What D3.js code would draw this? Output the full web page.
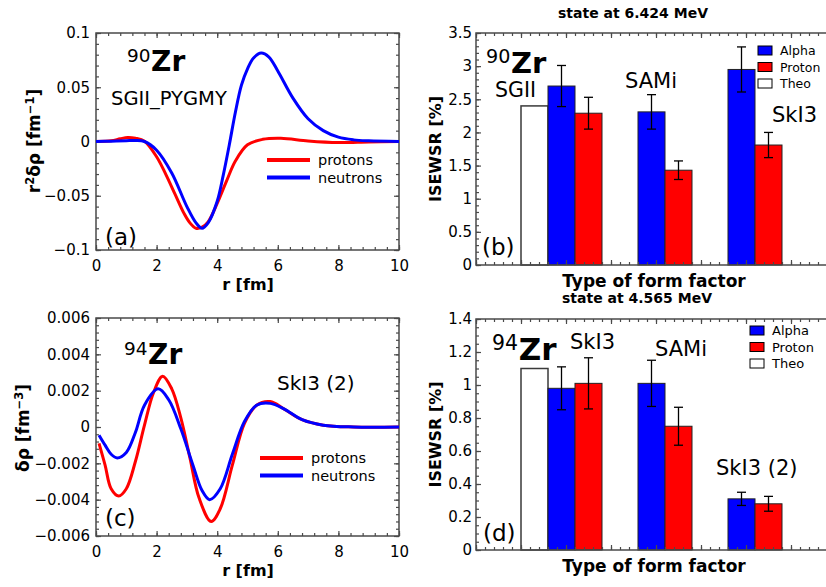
<!DOCTYPE html>
<html>
<head>
<meta charset="utf-8">
<script src="https://cdn.jsdelivr.net/npm/d3@7"></script>
<style>
  body { margin: 0; background: #fff; }
  text { font-family: 'DejaVu Sans', sans-serif; fill: #000; }
</style>
</head>
<body>
<div id="viz"></div>
<script>
var width = 826,
    height = 587;

var rojo = '#ff0000',
    azul = '#0000ff',
    ejes = '#4a4a4a';

// (a) 90Zr, SGII_PYGMY, r^2 drho
var rA = [0, 0.5, 0.8, 1.05, 1.3, 1.6, 2.0, 2.3, 2.6, 2.9, 3.1, 3.3, 3.5, 3.7, 4.0, 4.3, 4.6, 5.0, 5.5, 6.1, 7.0, 8.0, 9.0, 10];
var protonesA = [0, 0.0006, 0.0025, 0.0037, 0.003, 0.0003, -0.014, -0.030, -0.048, -0.066, -0.075, -0.080, -0.079, -0.074, -0.057, -0.037, -0.018, -0.003, 0.002, 0.003, 0.0005, -0.001, -0.0004, 0];
var rA2 = [0, 0.5, 1.0, 1.3, 1.6, 2.0, 2.5, 3.0, 3.3, 3.5, 3.7, 4.0, 4.2, 4.4, 4.6, 4.8, 5.0, 5.2, 5.45, 5.7, 6.0, 6.5, 7.0, 7.5, 8.0, 8.5, 9.0, 10];
var neutronesA = [0, 0.0003, 0.0008, 0.001, 0, -0.008, -0.029, -0.060, -0.075, -0.080, -0.075, -0.055, -0.031, -0.003, 0.027, 0.052, 0.067, 0.077, 0.0815, 0.078, 0.065, 0.040, 0.021, 0.010, 0.004, 0.0015, 0.0006, 0];

// (c) 94Zr, SkI3 (2), drho
var rC = [0.1, 0.3, 0.5, 0.75, 1.0, 1.3, 1.6, 1.9, 2.2, 2.5, 2.8, 3.1, 3.4, 3.8, 4.1, 4.5, 4.9, 5.3, 5.75, 6.2, 6.8, 7.5, 8.5, 10];
var protonesC = [-0.0009, -0.0021, -0.0034, -0.0038, -0.0034, -0.0019, 0.0001, 0.0019, 0.0028, 0.0021, 0.0005, -0.0017, -0.0039, -0.0052, -0.0045, -0.0021, 0.0002, 0.0012, 0.0014, 0.001, 0.0004, 0.0001, 0, 0];
var rC2 = [0.1, 0.3, 0.5, 0.7, 1.0, 1.3, 1.6, 2.05, 2.4, 2.8, 3.2, 3.5, 3.75, 4.1, 4.5, 4.9, 5.3, 5.75, 6.2, 6.8, 7.5, 8.5, 10];
var neutronesC = [-0.00045, -0.001, -0.0015, -0.0017, -0.0014, -0.0003, 0.0012, 0.0021, 0.0015, -0.0001, -0.0021, -0.0035, -0.0040, -0.0034, -0.0015, 0.0003, 0.0012, 0.0013, 0.001, 0.0004, 0.0001, 0, 0];

// (b) state at 6.424 MeV
var gruposB = ['SGII', 'SAMi', 'SkI3'];
var alphaB = [2.70, 2.31, 2.95],
    alphaErrB = [0.31, 0.26, 0.34],
    protonB = [2.29, 1.43, 1.81],
    protonErrB = [0.24, 0.14, 0.19],
    theoB = 2.40;

// (d) state at 4.565 MeV
var gruposD = ['SkI3', 'SAMi', 'SkI3 (2)'];
var alphaD = [0.98, 1.01, 0.31],
    alphaErrD = [0.13, 0.14, 0.04],
    protonD = [1.01, 0.75, 0.28],
    protonErrD = [0.155, 0.115, 0.045],
    theoD = 1.10;

// centro de cada grupo sobre el eje x (unidades del eje)
var grupoX = [2.2, 4.2, 6.2];

// ticks
var ticksR = [0, 2, 4, 6, 8, 10],
    ticksA = [-0.1, -0.05, 0, 0.05, 0.1],
    ticksC = [-0.006, -0.004, -0.002, 0, 0.002, 0.004, 0.006],
    ticksB = [0, 0.5, 1, 1.5, 2, 2.5, 3, 3.5],
    ticksD = [0, 0.2, 0.4, 0.6, 0.8, 1, 1.2, 1.4];

var svg = d3.select('#viz')
  .append('svg')
  .attr('width', width)
  .attr('height', height)
  .style('background', '#fff');

var fmt = d3.format('~g');

//Ejes con ticks hacia adentro en los cuatro lados
function ejesPanel(x, y, o) {
  var x0 = x.range()[0], x1 = x.range()[1],
      y0 = y.range()[0], y1 = y.range()[1];
  var g = svg.append('g');

  function axis(gen, tx, ty, vals, size, conTexto, pad) {
    var a = gen.tickValues(vals).tickSize(-size).tickPadding(pad || 0);
    if (!conTexto) a.tickFormat('');
    else a.tickFormat(fmt);
    var s = g.append('g').attr('transform', 'translate(' + tx + ',' + ty + ')').call(a);
    s.select('.domain').remove();
    s.selectAll('line').attr('stroke', ejes).attr('stroke-width', 1.2);
    s.selectAll('text').style('font-size', '15px').attr('fill', '#000');
    return s;
  }

  var xMinor = d3.range(x.domain()[0], x.domain()[1] + 1e-9, o.xMinor);
  var yMinor = d3.range(y.domain()[0], y.domain()[1] + 1e-9, o.yMinor);

  axis(d3.axisBottom(x), 0, y0, xMinor, 3, false);
  axis(d3.axisTop(x), 0, y1, xMinor, 3, false);
  axis(d3.axisLeft(y), x0, 0, yMinor, 3, false);
  axis(d3.axisRight(y), x1, 0, yMinor, 3, false);

  if (o.xTicks) {
    axis(d3.axisBottom(x), 0, y0, o.xTicks, 5, true, 10);
    axis(d3.axisTop(x), 0, y1, o.xTicks, 5, false);
  } else {
    var xMajor = d3.range(x.domain()[0], x.domain()[1] + 1e-9, 1);
    axis(d3.axisBottom(x), 0, y0, xMajor, 5, false);
    axis(d3.axisTop(x), 0, y1, xMajor, 5, false);
  }
  axis(d3.axisLeft(y), x0, 0, o.yTicks, 5, true, o.yPad);
  axis(d3.axisRight(y), x1, 0, o.yTicks, 5, false);

  g.append('rect')
    .attr('x', x0).attr('y', y1)
    .attr('width', x1 - x0).attr('height', y0 - y1)
    .attr('fill', 'none')
    .attr('stroke', ejes)
    .attr('stroke-width', 1.5);
}

function texto(x, y, t, size, bold, anchor) {
  return svg.append('text')
    .attr('x', x).attr('y', y)
    .attr('text-anchor', anchor || 'start')
    .style('font-size', size + 'px')
    .style('font-weight', bold ? 'bold' : 'normal')
    .text(t);
}

function nucleo(x, y, masa, size) {
  texto(x, y - size * 0.33, masa, size * 0.66);
  texto(x + size * 0.86, y, 'Zr', size, true);
}

//Paneles de densidad de transicion
function panelCurvas(yTop, yBot, yDom, yTicks, yMinor, series, ley) {
  var x = d3.scaleLinear().domain([0, 10]).range([96, 399]);
  var y = d3.scaleLinear().domain(yDom).range([yBot, yTop]);

  ejesPanel(x, y, { xTicks: ticksR, xMinor: 0.4, yTicks: yTicks, yMinor: yMinor, yPad: 6 });

  var linea = d3.line()
    .x(function(d) { return x(d[0]); })
    .y(function(d) { return y(d[1]); })
    .curve(d3.curveCatmullRom.alpha(0.5));

  svg.append('g').selectAll('path')
    .data(series)
    .enter().append('path')
    .attr('d', function(d) { return linea(d3.zip(d.r, d.v)); })
    .attr('fill', 'none')
    .attr('stroke', function(d) { return d.color; })
    .attr('stroke-width', 3);

  var lg = svg.append('g').selectAll('g')
    .data(series)
    .enter().append('g');
  lg.append('line')
    .attr('x1', ley.x).attr('x2', ley.x + 43)
    .attr('y1', function(d, i) { return ley.y + i * 17.5; })
    .attr('y2', function(d, i) { return ley.y + i * 17.5; })
    .attr('stroke', function(d) { return d.color; })
    .attr('stroke-width', 4);
  lg.append('text')
    .attr('x', ley.x + 51)
    .attr('y', function(d, i) { return ley.y + i * 17.5 + 5; })
    .style('font-size', '14.5px')
    .text(function(d) { return d.nombre; });

  texto(248, yBot + 40, 'r [fm]', 16, true, 'middle');
}

panelCurvas(33, 250, [-0.1, 0.1], ticksA, 0.01, [
  { nombre: 'protons', color: rojo, r: rA, v: protonesA },
  { nombre: 'neutrons', color: azul, r: rA2, v: neutronesA }
], { x: 267, y: 160 });

panelCurvas(318, 536, [-0.006, 0.006], ticksC, 0.0004, [
  { nombre: 'protons', color: rojo, r: rC, v: protonesC },
  { nombre: 'neutrons', color: azul, r: rC2, v: neutronesC }
], { x: 260, y: 458 });

// etiquetas eje y de (a) y (c)
var ya = svg.append('text')
  .attr('transform', 'translate(40,141) rotate(-90)')
  .attr('text-anchor', 'middle')
  .style('font-size', '17px').style('font-weight', 'bold');
ya.append('tspan').text('r');
ya.append('tspan').attr('dy', -6).style('font-size', '11.5px').text('2');
ya.append('tspan').attr('dy', 6).text('δρ [fm');
ya.append('tspan').attr('dy', -6).style('font-size', '11.5px').text('−1');
ya.append('tspan').attr('dy', 6).text(']');

var yc = svg.append('text')
  .attr('transform', 'translate(29,428) rotate(-90)')
  .attr('text-anchor', 'middle')
  .style('font-size', '17px').style('font-weight', 'bold');
yc.append('tspan').text('δρ [fm');
yc.append('tspan').attr('dy', -6).style('font-size', '11.5px').text('−3');
yc.append('tspan').attr('dy', 6).text(']');

nucleo(127, 71, '90', 28);
texto(111, 105, 'SGII_PYGMY', 19.5);
texto(105, 245, '(a)', 23);

nucleo(124, 364, '94', 28);
texto(277, 390, 'SkI3 (2)', 20);
texto(105, 526, '(c)', 23);

//Paneles de barras ISEWSR
function panelBarras(yTop, yBot, yMax, yTicks, yMinor, alpha, alphaErr, proton, protonErr, theo) {
  var x = d3.scaleLinear().domain([0, 8]).range([476, 836]);
  var y = d3.scaleLinear().domain([0, yMax]).range([yBot, yTop]);
  var bw = 0.6;

  var g = svg.append('g');

  g.append('rect')
    .attr('x', x(grupoX[0] - 2 * bw))
    .attr('y', y(theo))
    .attr('width', x(bw) - x(0))
    .attr('height', y(0) - y(theo))
    .attr('fill', '#fff')
    .attr('stroke', '#3a3a3a')
    .attr('stroke-width', 1.5);

  var datos = [];
  alpha.forEach(function(v, i) {
    datos.push({ x0: grupoX[i] - bw, v: v, e: alphaErr[i], color: azul });
    datos.push({ x0: grupoX[i], v: proton[i], e: protonErr[i], color: rojo });
  });

  g.selectAll('rect.barra')
    .data(datos)
    .enter().append('rect')
    .attr('class', 'barra')
    .attr('x', function(d) { return x(d.x0); })
    .attr('y', function(d) { return y(d.v); })
    .attr('width', x(bw) - x(0))
    .attr('height', function(d) { return y(0) - y(d.v); })
    .attr('fill', function(d) { return d.color; })
    .attr('stroke', '#222')
    .attr('stroke-width', 1);

  // barras de error
  var eg = g.selectAll('g.err')
    .data(datos)
    .enter().append('g')
    .attr('class', 'err')
    .attr('stroke', '#000')
    .attr('stroke-width', 1.3);
  eg.append('line')
    .attr('x1', function(d) { return x(d.x0 + bw / 2); })
    .attr('x2', function(d) { return x(d.x0 + bw / 2); })
    .attr('y1', function(d) { return y(d.v - d.e); })
    .attr('y2', function(d) { return y(d.v + d.e); });
  [-1, 1].forEach(function(s) {
    eg.append('line')
      .attr('x1', function(d) { return x(d.x0 + bw / 2) - 4.5; })
      .attr('x2', function(d) { return x(d.x0 + bw / 2) + 4.5; })
      .attr('y1', function(d) { return y(d.v + s * d.e); })
      .attr('y2', function(d) { return y(d.v + s * d.e); });
  });

  ejesPanel(x, y, { xMinor: 0.2, yTicks: yTicks, yMinor: yMinor, yPad: 4 });

  svg.append('text')
    .attr('transform', 'translate(441,' + ((yTop + yBot) / 2) + ') rotate(-90)')
    .attr('text-anchor', 'middle')
    .style('font-size', '16px').style('font-weight', 'bold')
    .text('ISEWSR [%]');

  texto(654, yBot + 22, 'Type of form factor', 17, true, 'middle');
}

function leyendaBarras(x, y, paso, size) {
  var items = [['Alpha', azul], ['Proton', rojo], ['Theo', '#fff']];
  var lg = svg.append('g').selectAll('g')
    .data(items)
    .enter().append('g');
  lg.append('rect')
    .attr('x', x)
    .attr('y', function(d, i) { return y + i * paso; })
    .attr('width', 14).attr('height', 9)
    .attr('fill', function(d) { return d[1]; })
    .attr('stroke', '#000')
    .attr('stroke-width', 1);
  lg.append('text')
    .attr('x', x + 22)
    .attr('y', function(d, i) { return y + i * paso + 9; })
    .style('font-size', size + 'px')
    .text(function(d) { return d[0]; });
}

panelBarras(33, 265, 3.5, ticksB, 0.1, alphaB, alphaErrB, protonB, protonErrB, theoB);
texto(633, 18, 'state at 6.424 MeV', 14, true, 'middle');
leyendaBarras(758, 46, 16.5, 12.5);
nucleo(486, 73, '90', 29);
texto(495, 97, gruposB[0], 20.5);
texto(625, 88, gruposB[1], 21);
texto(772, 122, gruposB[2], 21);
texto(482, 255, '(b)', 23);

panelBarras(319, 550, 1.4, ticksD, 0.05, alphaD, alphaErrD, protonD, protonErrD, theoD);
texto(637, 303, 'state at 4.565 MeV', 14, true, 'middle');
leyendaBarras(750, 326, 16.5, 13);
nucleo(492, 360, '94', 31);
texto(570, 349, gruposD[0], 21);
texto(655, 356, gruposD[1], 21);
texto(716, 475, gruposD[2], 21);
texto(483, 541, '(d)', 23);
</script>
</body>
</html>
